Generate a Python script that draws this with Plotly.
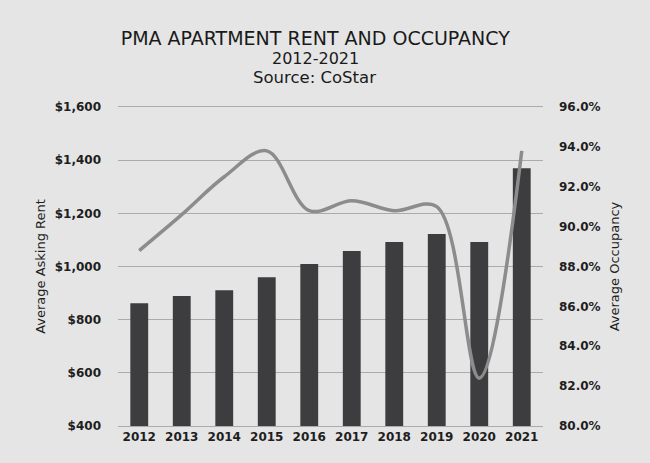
import plotly.graph_objects as go

years = ["2012", "2013", "2014", "2015", "2016", "2017", "2018", "2019", "2020", "2021"]
rent = [862, 889, 911, 960, 1009, 1058, 1092, 1122, 1092, 1370]
occupancy = [88.8, 90.6, 92.5, 93.8, 90.8, 91.3, 90.8, 91.0, 82.4, 93.8]

title_line1 = "PMA APARTMENT RENT AND OCCUPANCY"
title_line2 = "2012-2021"
title_line3 = "Source: CoStar"

font_family = "'DejaVu Sans', 'Open Sans', sans-serif"
tick_font = dict(size=12, color="#1e1e1e", family=font_family, weight="bold")
title_axis_font = dict(size=13, color="#1e1e1e", family=font_family)

fig = go.Figure()
fig.add_trace(go.Bar(
    x=years, y=rent, name="Average Asking Rent",
    marker=dict(color="#3d3d3f", line=dict(width=0)),
    yaxis="y",
))
fig.add_trace(go.Scatter(
    x=years, y=occupancy, name="Average Occupancy",
    mode="lines", line=dict(color="#8c8c8c", width=3.5, shape="spline", smoothing=1.0),
    yaxis="y2",
))

fig.update_layout(
    width=650, height=463,
    paper_bgcolor="#e5e5e5", plot_bgcolor="#e5e5e5",
    margin=dict(l=118, r=107, t=107, b=37),
    showlegend=False,
    bargap=0.58,
    font=dict(family=font_family, color="#222222"),
    title=dict(
        text=title_line1,
        x=0.485, xanchor="center", y=0.918, yanchor="middle",
        font=dict(size=19, color="#1a1a1a", family=font_family),
    ),
    annotations=[
        dict(text=title_line2, xref="paper", yref="paper", x=0.465, y=1.1536,
             xanchor="center", yanchor="middle", showarrow=False,
             font=dict(size=16, color="#1a1a1a", family=font_family)),
        dict(text=title_line3, xref="paper", yref="paper", x=0.4635, y=1.094,
             xanchor="center", yanchor="middle", showarrow=False,
             font=dict(size=16.5, color="#1a1a1a", family=font_family)),
    ],
    xaxis=dict(
        type="category", showgrid=False, zeroline=False,
        showline=True, linecolor="#ababab", linewidth=1, mirror=True,
        tickfont=tick_font, ticks="",
    ),
    yaxis=dict(
        range=[400, 1600], dtick=200, tickprefix="$", tickformat=",d",
        showgrid=True, gridcolor="#ababab", gridwidth=1, zeroline=False,
        tickfont=tick_font, ticklabelstandoff=16,
        title=dict(text="Average Asking Rent", font=title_axis_font, standoff=6),
    ),
    yaxis2=dict(
        overlaying="y", side="right", range=[80, 96], dtick=2,
        tickformat=".1f", ticksuffix="%", showgrid=False, zeroline=False,
        tickfont=tick_font, ticklabelstandoff=15,
        title=dict(text="Average Occupancy", font=title_axis_font, standoff=10),
    ),
)

fig.write_html("out.html")
